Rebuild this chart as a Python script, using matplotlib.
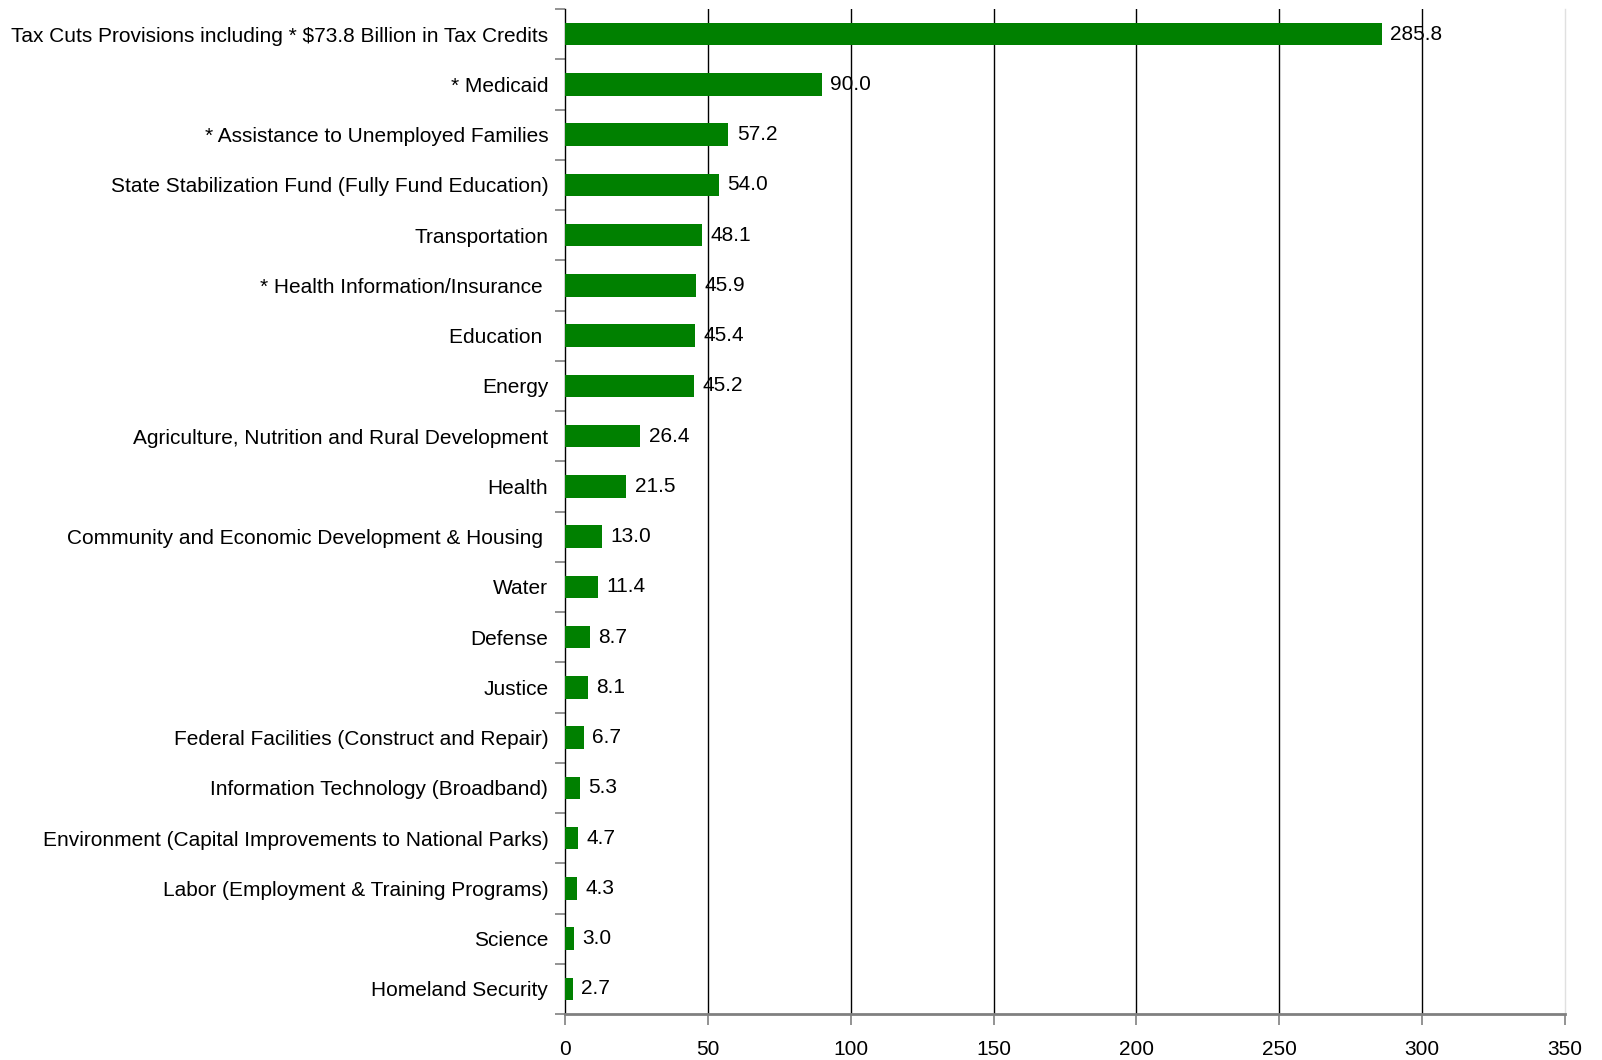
import numpy as np
import matplotlib.pyplot as plt
from matplotlib.ticker import FixedLocator

# data (top to bottom as shown)
categories = [
    'Tax Cuts Provisions including * $73.8 Billion in Tax Credits',
    '* Medicaid',
    '* Assistance to Unemployed Families',
    'State Stabilization Fund (Fully Fund Education)',
    'Transportation',
    '* Health Information/Insurance ',
    'Education ',
    'Energy',
    'Agriculture, Nutrition and Rural Development',
    'Health',
    'Community and Economic Development & Housing ',
    'Water',
    'Defense',
    'Justice',
    'Federal Facilities (Construct and Repair)',
    'Information Technology (Broadband)',
    'Environment (Capital Improvements to National Parks)',
    'Labor (Employment & Training Programs)',
    'Science',
    'Homeland Security',
]
values = [285.8, 90.0, 57.2, 54.0, 48.1, 45.9, 45.4, 45.2, 26.4, 21.5,
          13.0, 11.4, 8.7, 8.1, 6.7, 5.3, 4.7, 4.3, 3.0, 2.7]
x_ticks = [0, 50, 100, 150, 200, 250, 300, 350]

plt.rcParams['font.family'] = ['Liberation Sans', 'DejaVu Sans']
FS = 15

fig = plt.figure(figsize=(16.02, 10.6), dpi=100)
ax = fig.add_axes([565 / 1602, 1 - 1014 / 1060, 1000 / 1602, 1005 / 1060])

y = np.arange(len(categories))
bars = ax.barh(y, values, height=0.45, color='#008000', zorder=3)
ax.bar_label(bars, fmt='%.1f', padding=6, fontsize=FS, color='black', zorder=4)

ax.set_xlim(0, 350)
ax.set_ylim(len(categories) - 0.5, -0.5)

# gridlines
for t in x_ticks[1:-1]:
    ax.axvline(t, color='black', lw=1.0, zorder=1)

ax.set_xticks(x_ticks)
ax.set_xticklabels([str(t) for t in x_ticks], fontsize=FS)
ax.set_yticks(y)
ax.set_yticklabels(categories, fontsize=FS)
ax.yaxis.set_minor_locator(FixedLocator(np.arange(-0.5, len(categories), 1)))
ax.tick_params(axis='y', which='major', length=0, pad=12)
ax.tick_params(axis='y', which='minor', length=7, color='#808080', width=1.2)
ax.tick_params(axis='x', length=8, color='#808080', width=1.2, pad=11)

ax.spines['top'].set_visible(False)
ax.spines['right'].set_color('#e0e0e0')
ax.spines['right'].set_linewidth(1.0)
ax.spines['left'].set_color('black')
ax.spines['left'].set_linewidth(1.0)
ax.spines['bottom'].set_color('#808080')
ax.spines['bottom'].set_linewidth(2.0)

fig.savefig('out.png', dpi=100, facecolor='white')
